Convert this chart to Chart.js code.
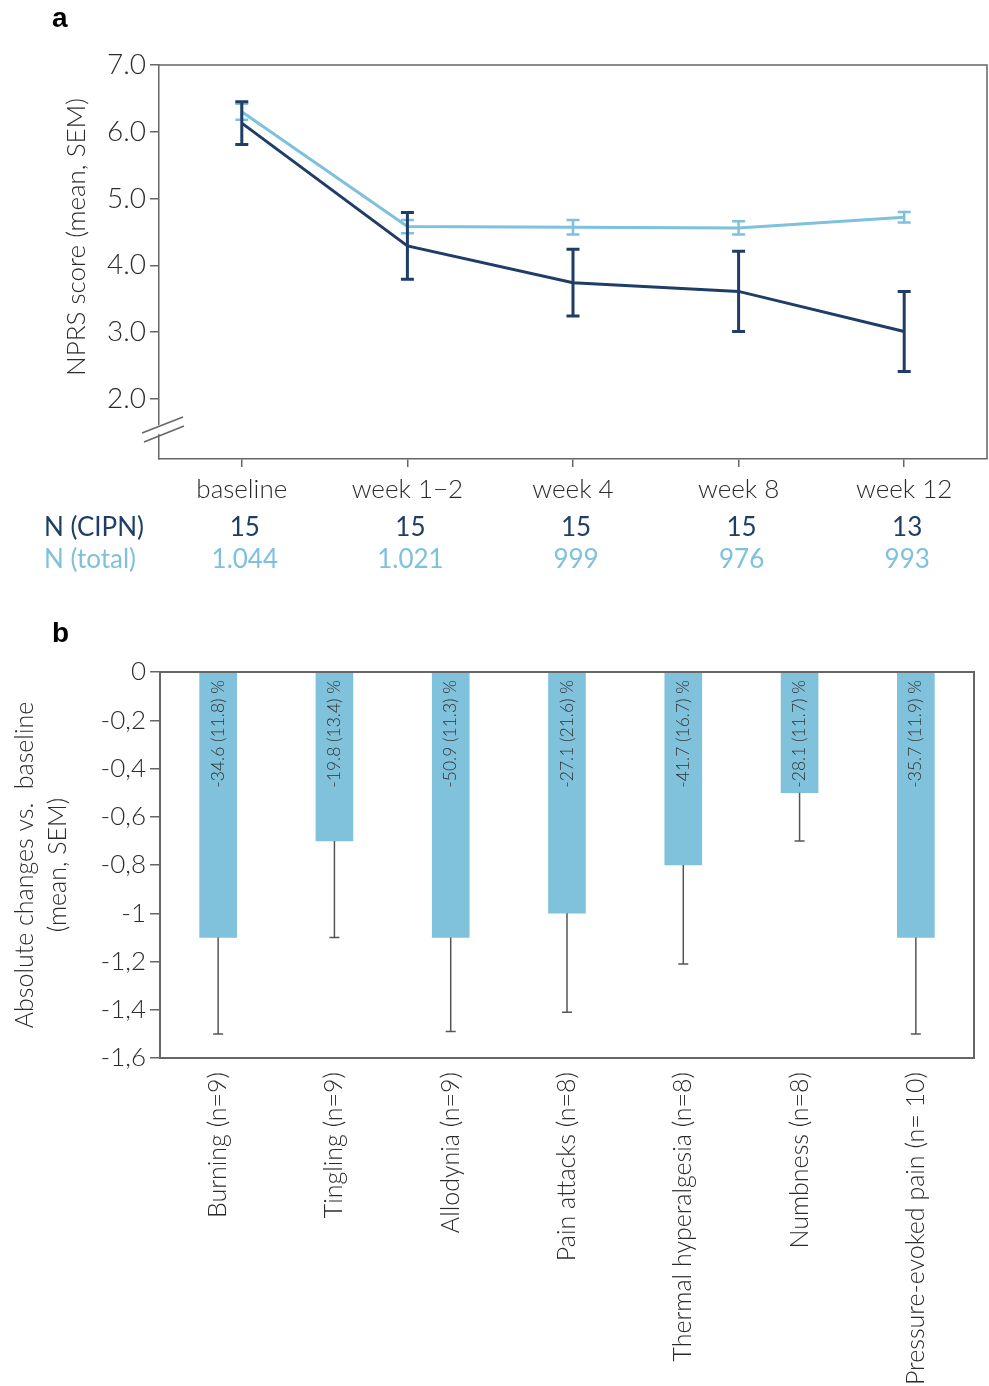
<!DOCTYPE html>
<html>
<head>
<meta charset="utf-8">
<script src="https://cdn.jsdelivr.net/npm/chart.js@4.4.1/dist/chart.umd.min.js"></script>
<style>
  body { margin: 0; background: #fff; }
  #wrap { position: relative; width: 989px; height: 1386px; background: #fff; }
  canvas { position: absolute; left: 0; }
  #lineChart { top: 0; }
  #barChart { top: 600px; }
  .panel { position: absolute; font: bold 28px "Liberation Sans", Arial, sans-serif; color: #000; }
</style>
</head>
<body>
<div id="wrap">
  <canvas id="lineChart" width="989" height="600"></canvas>
  <canvas id="barChart" width="989" height="786"></canvas>
  <div class="panel" style="left:52px; top:2px;">a</div>
  <div class="panel" style="left:52px; top:617px;">b</div>
</div>
<script>
// panel a: NPRS over time
const visits = ['baseline', 'week 1\u22122', 'week 4', 'week 8', 'week 12'];
const cipnMean = [6.13, 4.29, 3.74, 3.61, 3.01];
const cipnSem = [0.32, 0.50, 0.50, 0.60, 0.60];
const totalMean = [6.30, 4.58, 4.57, 4.56, 4.72];
const totalSem = [0.12, 0.10, 0.11, 0.10, 0.08];
const nCipn = ['15', '15', '15', '15', '13'];
const nTotal = ['1.044', '1.021', '999', '976', '993'];
const nprsTicks = [2, 3, 4, 5, 6, 7];

// panel b: change by symptom
const symptoms = ['Burning (n=9)', 'Tingling (n=9)', 'Allodynia (n=9)', 'Pain attacks (n=8)',
  'Thermal hyperalgesia (n=8)', 'Numbness (n=8)', 'Pressure-evoked pain (n= 10)'];
const changeMean = [-1.10, -0.70, -1.10, -1.00, -0.80, -0.50, -1.10];
const changeSem = [0.40, 0.40, 0.39, 0.41, 0.41, 0.20, 0.40];
const pctLabels = ['-34.6 (11.8) %', '-19.8 (13.4) %', '-50.9 (11.3) %', '-27.1 (21.6) %',
  '-41.7 (16.7) %', '-28.1 (11.7) %', '-35.7 (11.9) %'];
const changeTicks = [0, -0.2, -0.4, -0.6, -0.8, -1, -1.2, -1.4, -1.6];

const FONT = 'Lato, "Open Sans", sans-serif';
const DARK = '#1f3d66';
const LIGHT = '#7ec1dc';
const AXIS = '#666';
const TEXT = '#2b2b2b';

// draws SEM whiskers for the line chart
const lineErrors = {
    id: 'lineErrors',
    afterDatasetsDraw(chart) {
        const ctx = chart.ctx;
        const y = chart.scales.y;
        chart.data.datasets.forEach((ds, i) => {
            const meta = chart.getDatasetMeta(i);
            ctx.save();
            ctx.strokeStyle = ds.borderColor;
            ctx.lineWidth = ds.errWidth;
            meta.data.forEach((pt, j) => {
                const hi = y.getPixelForValue(ds.data[j] + ds.sem[j]);
                const lo = y.getPixelForValue(ds.data[j] - ds.sem[j]);
                ctx.beginPath();
                ctx.moveTo(pt.x, hi); ctx.lineTo(pt.x, lo);
                ctx.moveTo(pt.x - 6.5, hi); ctx.lineTo(pt.x + 6.5, hi);
                ctx.moveTo(pt.x - 6.5, lo); ctx.lineTo(pt.x + 6.5, lo);
                ctx.stroke();
            });
            ctx.restore();
        });
    }
};

// frame, axis break, title and N rows of panel a
const lineDecor = {
    id: 'lineDecor',
    afterDraw(chart) {
        const ctx = chart.ctx;
        const a = chart.chartArea;
        const x = chart.scales.x;
        const y = chart.scales.y;
        ctx.save();
        ctx.strokeStyle = AXIS;
        ctx.lineWidth = 1.5;
        ctx.beginPath();
        ctx.moveTo(a.left, a.top); ctx.lineTo(a.right, a.top); ctx.lineTo(a.right, a.bottom);
        ctx.stroke();

        // axis break
        const yb = y.getPixelForValue(1.55);
        ctx.fillStyle = '#fff';
        ctx.beginPath();
        ctx.moveTo(a.left - 20, yb + 4); ctx.lineTo(a.left + 20, yb - 12);
        ctx.lineTo(a.left + 20, yb - 3); ctx.lineTo(a.left - 20, yb + 13);
        ctx.closePath();
        ctx.fill();
        ctx.beginPath();
        ctx.moveTo(a.left - 17, yb + 4); ctx.lineTo(a.left + 24, yb - 12);
        ctx.moveTo(a.left - 15, yb + 13); ctx.lineTo(a.left + 25, yb - 3);
        ctx.stroke();

        // axis title
        ctx.fillStyle = TEXT;
        ctx.font = '300 26px ' + FONT;
        ctx.textAlign = 'center';
        ctx.textBaseline = 'middle';
        ctx.translate(77, 237);
        ctx.rotate(-Math.PI / 2);
        ctx.fillText('NPRS score (mean, SEM)', 0, 0);
        ctx.restore();

        ctx.save();
        ctx.font = '26px ' + FONT;
        ctx.textBaseline = 'middle';
        ctx.textAlign = 'left';
        ctx.fillStyle = DARK;
        ctx.fillText('N (CIPN)', 44, 528);
        ctx.fillStyle = LIGHT;
        ctx.fillText('N (total)', 44, 560);
        ctx.textAlign = 'center';
        visits.forEach((v, i) => {
            const px = x.getPixelForValue(i) + 3;
            ctx.fillStyle = DARK;
            ctx.fillText(nCipn[i], px, 528);
            ctx.fillStyle = LIGHT;
            ctx.fillText(nTotal[i], px, 560);
        });
        ctx.restore();
    }
};

new Chart(document.getElementById('lineChart'), {
    type: 'line',
    data: {
        labels: visits,
        datasets: [
            { label: 'N (total)', data: totalMean, sem: totalSem, errWidth: 2.5,
              borderColor: LIGHT, borderWidth: 3, pointRadius: 0, tension: 0 },
            { label: 'N (CIPN)', data: cipnMean, sem: cipnSem, errWidth: 3,
              borderColor: DARK, borderWidth: 3, pointRadius: 0, tension: 0 }
        ]
    },
    options: {
        responsive: false,
        animation: false,
        layout: { padding: { top: 65, right: 2, left: 0, bottom: 0 } },
        plugins: { legend: { display: false }, tooltip: { enabled: false } },
        scales: {
            x: {
                offset: true,
                grid: { drawOnChartArea: false, color: AXIS, tickLength: 8, lineWidth: 1.5 },
                border: { color: AXIS, width: 1.5 },
                ticks: { color: TEXT, font: { family: FONT, size: 26, weight: '300' }, padding: 7 },
                afterFit: s => { s.height = 141; }
            },
            y: {
                min: 1.1, max: 7,
                afterBuildTicks: s => { s.ticks = nprsTicks.map(v => ({ value: v })); },
                grid: { drawOnChartArea: false, color: AXIS, tickLength: 9, lineWidth: 1.5 },
                border: { color: AXIS, width: 1.5 },
                ticks: { color: TEXT, font: { family: FONT, size: 28, weight: '300' }, padding: 4,
                         callback: v => v.toFixed(1) },
                afterFit: s => { s.width = 159; }
            }
        }
    },
    plugins: [lineErrors, lineDecor]
});

// whiskers, in-bar labels, frame and title of panel b
const barDecor = {
    id: 'barDecor',
    afterDatasetsDraw(chart) {
        const ctx = chart.ctx;
        const y = chart.scales.y;
        const meta = chart.getDatasetMeta(0);
        ctx.save();
        ctx.strokeStyle = '#555';
        ctx.lineWidth = 1.5;
        meta.data.forEach((bar, j) => {
            const lo = y.getPixelForValue(changeMean[j] - changeSem[j]);
            ctx.beginPath();
            ctx.moveTo(bar.x, bar.y); ctx.lineTo(bar.x, lo);
            ctx.moveTo(bar.x - 5, lo); ctx.lineTo(bar.x + 5, lo);
            ctx.stroke();
        });
        ctx.fillStyle = '#333';
        ctx.font = '300 17.5px ' + FONT;
        ctx.textAlign = 'right';
        ctx.textBaseline = 'middle';
        const top = y.getPixelForValue(0);
        meta.data.forEach((bar, j) => {
            ctx.save();
            ctx.translate(bar.x, top + 8);
            ctx.rotate(-Math.PI / 2);
            ctx.fillText(pctLabels[j], 0, 0);
            ctx.restore();
        });
        ctx.restore();
    },
    afterDraw(chart) {
        const ctx = chart.ctx;
        const a = chart.chartArea;
        ctx.save();
        ctx.strokeStyle = AXIS;
        ctx.lineWidth = 2;
        ctx.beginPath();
        ctx.moveTo(a.left, a.top); ctx.lineTo(a.right, a.top); ctx.lineTo(a.right, a.bottom);
        ctx.stroke();
        ctx.fillStyle = TEXT;
        ctx.font = '300 25px ' + FONT;
        ctx.textAlign = 'center';
        ctx.textBaseline = 'middle';
        ctx.translate(0, (a.top + a.bottom) / 2);
        ctx.rotate(-Math.PI / 2);
        ctx.fillText('Absolute changes vs.  baseline', 0, 25);
        ctx.fillText('(mean, SEM)', 0, 58);
        ctx.restore();
    }
};

new Chart(document.getElementById('barChart'), {
    type: 'bar',
    data: {
        labels: symptoms,
        datasets: [{ data: changeMean, backgroundColor: '#80c1dc', borderWidth: 0, barThickness: 37 }]
    },
    options: {
        responsive: false,
        animation: false,
        layout: { padding: { top: 72, right: 15, left: 0, bottom: 0 } },
        plugins: { legend: { display: false }, tooltip: { enabled: false } },
        scales: {
            x: {
                grid: { drawOnChartArea: false, drawTicks: false },
                border: { color: AXIS, width: 2 },
                ticks: { color: TEXT, font: { family: FONT, size: 25, weight: '300' },
                         minRotation: 90, maxRotation: 90, padding: 14 },
                afterFit: s => { s.height = 328; }
            },
            y: {
                min: -1.6, max: 0,
                afterBuildTicks: s => { s.ticks = changeTicks.map(v => ({ value: v })); },
                grid: { drawOnChartArea: false, color: AXIS, tickLength: 10, lineWidth: 1.5 },
                border: { color: AXIS, width: 2 },
                ticks: { color: TEXT, font: { family: FONT, size: 26, weight: '300' }, padding: 4,
                         callback: v => String(Math.round(v * 10) / 10).replace('.', ',') },
                afterFit: s => { s.width = 160; }
            }
        }
    },
    plugins: [barDecor]
});
</script>
</body>
</html>
